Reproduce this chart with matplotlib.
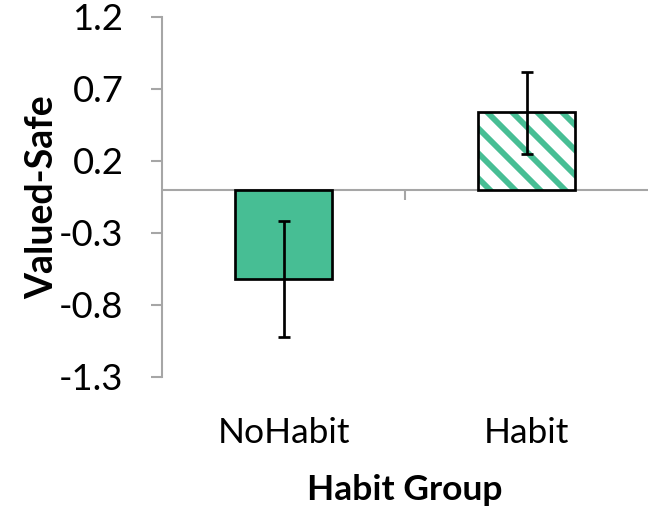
import numpy as np
import matplotlib.pyplot as plt

groups = ['NoHabit', 'Habit']
means = [-0.62, 0.54]
err_low = [0.40, 0.29]
err_high = [0.40, 0.28]
yticks = [-1.3, -0.8, -0.3, 0.2, 0.7, 1.2]

green = '#47BE94'
grey = '#A6A6A6'

plt.rcParams['font.family'] = ['Lato', 'DejaVu Sans']
plt.rcParams['hatch.linewidth'] = 2.8

fig = plt.figure(figsize=(4.36, 3.4), dpi=150)
ax = fig.add_axes([0.2477, 0.2608, 0.7433, 0.7059])

x = np.arange(len(groups))
ax.bar(x[0], means[0], width=0.40, color=green, edgecolor='black', linewidth=1.3, zorder=2)
# hatched bar: stripes first, then black outline on top
ax.bar(x[1], means[1], width=0.40, color='white', edgecolor=green, linewidth=0,
       hatch='\\\\', zorder=2)
ax.bar(x[1], means[1], width=0.40, color='none', edgecolor='black', linewidth=1.3, zorder=2)
ax.errorbar(x, means, yerr=[err_low, err_high], fmt='none', ecolor='black',
            elinewidth=1.3, capsize=3, capthick=1.3, zorder=3)

# zero line with category separator tick
ax.axhline(0, color=grey, lw=1.0, zorder=1)
ax.vlines(0.5, -0.07, 0, color=grey, lw=1.0, zorder=1)

ax.set_xlim(-0.5, 1.5)
ax.set_ylim(-1.3, 1.2)
ax.set_yticks(yticks)
ax.set_yticklabels([f'{v:.1f}' for v in yticks], fontsize=17.5)
ax.set_xticks(x)
ax.set_xticklabels(groups, fontsize=17)
ax.tick_params(axis='x', length=0, pad=19)
ax.tick_params(axis='y', direction='out', length=5.5, width=1.0, color=grey, pad=13)

for s in ['top', 'right', 'bottom']:
    ax.spines[s].set_visible(False)
ax.spines['left'].set_color(grey)
ax.spines['left'].set_linewidth(1.0)

ax.set_xlabel('Habit Group', fontsize=17, fontweight='bold', labelpad=12)
ax.set_ylabel('Valued-Safe', fontsize=18, fontweight='bold', labelpad=0)

fig.savefig('out.png', dpi=150)
